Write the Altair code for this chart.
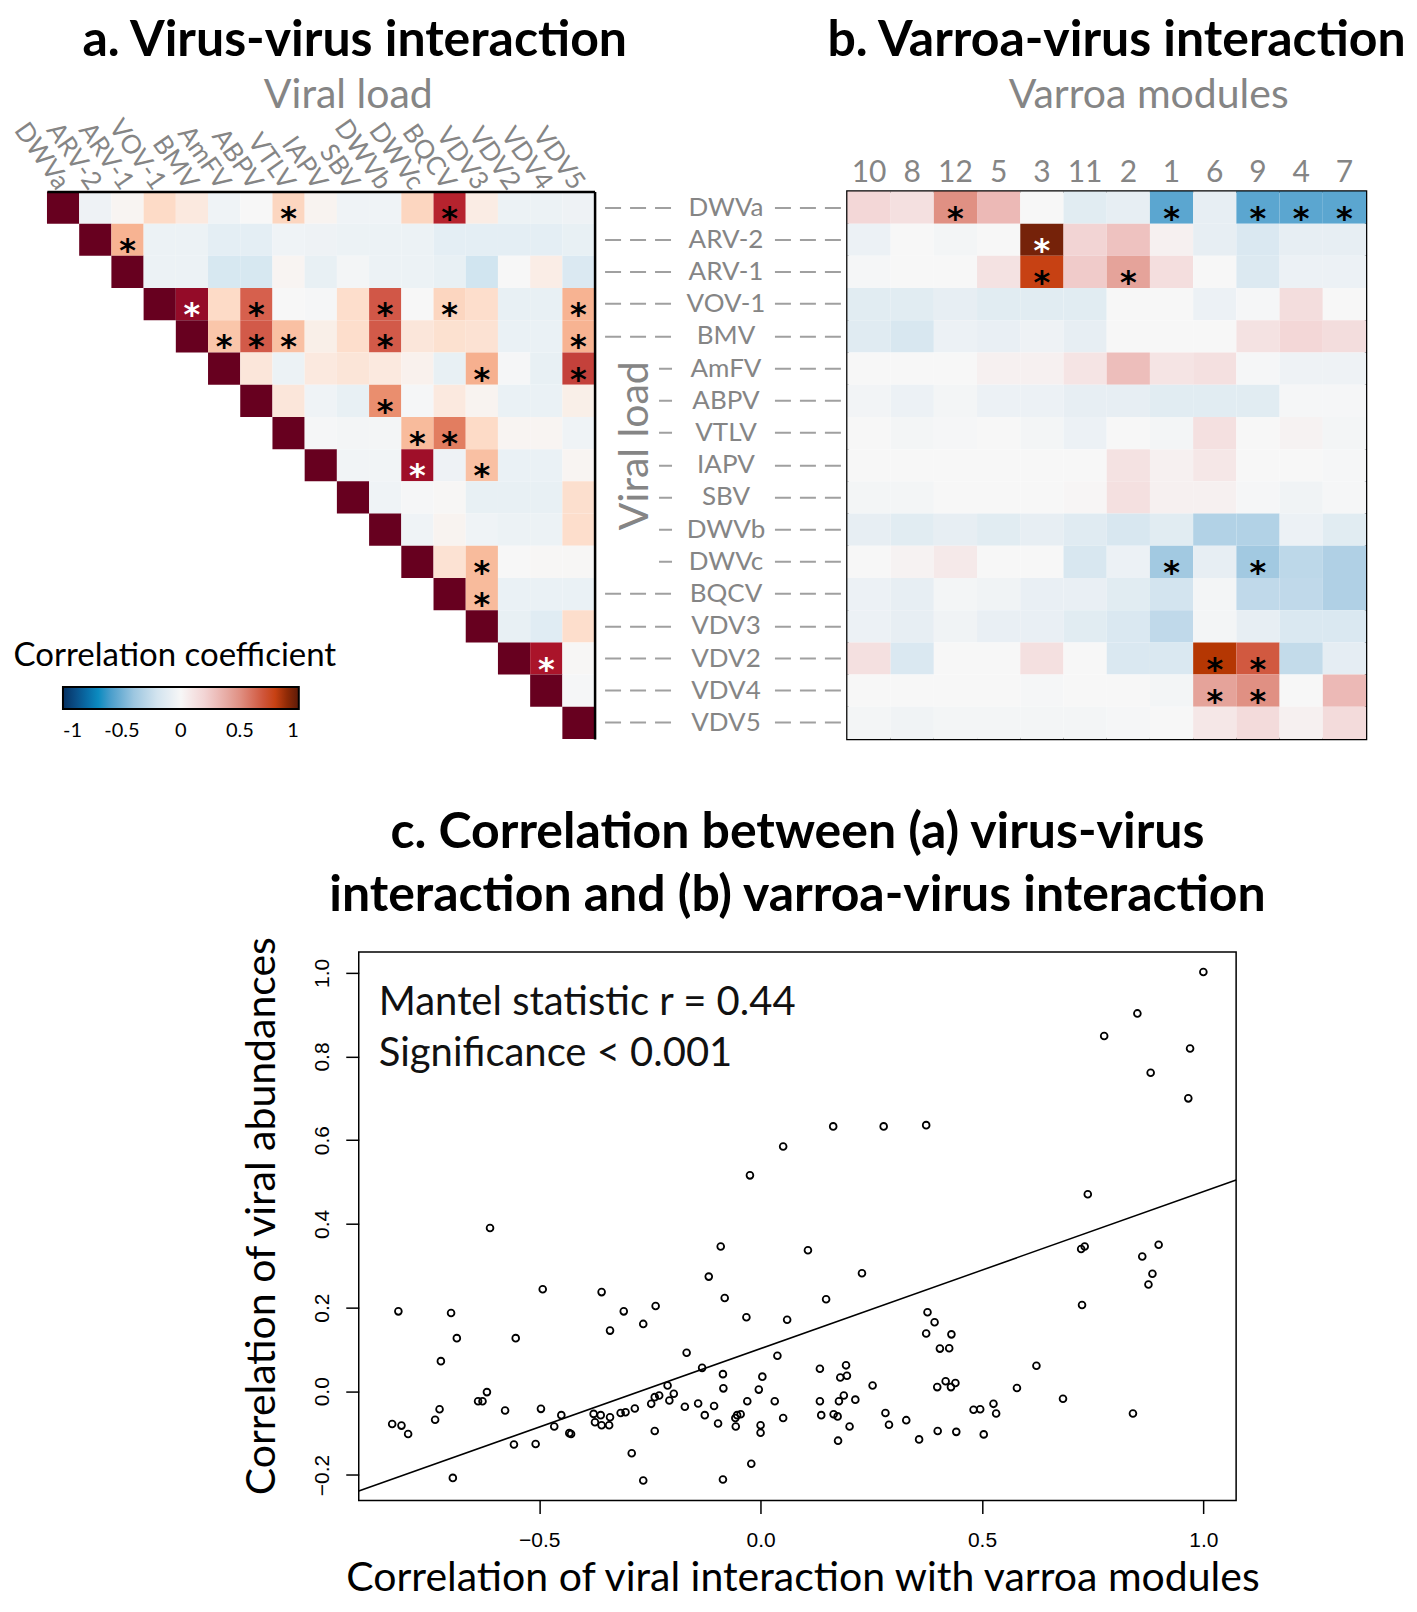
import altair as alt
import pandas as pd

FONT = "Lato"
GRAY = "#858585"
STAR_FONT = "DejaVu Sans"

# ---------------- data ----------------
viruses = ["DWVa", "ARV-2", "ARV-1", "VOV-1", "BMV", "AmFV", "ABPV", "VTLV", "IAPV",
           "SBV", "DWVb", "DWVc", "BQCV", "VDV3", "VDV2", "VDV4", "VDV5"]

# virus-virus correlations: row i holds columns i..16 (diagonal first)
vv_rows = [
    [1.0, -0.05, 0.02, 0.20, 0.10, -0.04, 0.00, 0.22, 0.03, -0.04, -0.04, 0.22, 0.78, 0.08, -0.06, -0.06, -0.05],
    [1.0, 0.35, -0.06, -0.06, -0.10, -0.10, -0.04, -0.05, -0.06, -0.06, -0.06, -0.10, -0.10, -0.10, -0.10, -0.08],
    [1.0, -0.06, -0.06, -0.17, -0.17, 0.02, -0.08, -0.02, -0.06, -0.06, -0.08, -0.20, 0.00, 0.07, -0.15],
    [1.0, 0.88, 0.20, 0.60, 0.00, -0.01, 0.18, 0.63, 0.00, 0.22, 0.18, -0.08, -0.08, 0.35],
    [1.0, 0.28, 0.62, 0.30, 0.06, 0.18, 0.62, 0.12, 0.16, 0.15, -0.07, -0.07, 0.35],
    [1.0, 0.12, -0.06, 0.10, 0.13, 0.10, 0.04, -0.08, 0.36, -0.01, -0.08, 0.70],
    [1.0, 0.12, -0.04, -0.08, 0.47, -0.01, 0.10, 0.03, -0.07, -0.07, 0.06],
    [1.0, -0.01, -0.02, -0.02, 0.32, 0.52, 0.20, 0.02, 0.02, -0.04],
    [1.0, -0.03, -0.03, 0.85, -0.05, 0.30, -0.07, -0.07, 0.02],
    [1.0, -0.04, -0.01, 0.01, -0.08, -0.08, -0.08, 0.17],
    [1.0, -0.04, 0.03, -0.04, -0.06, -0.06, 0.18],
    [1.0, 0.15, 0.32, 0.00, 0.01, 0.01],
    [1.0, 0.32, -0.07, -0.07, -0.07],
    [1.0, -0.08, -0.12, 0.18],
    [1.0, 0.82, 0.01],
    [1.0, -0.01],
    [1.0],
]
vv_stars = [("DWVa", "VTLV"), ("DWVa", "BQCV"), ("ARV-2", "ARV-1"), ("VOV-1", "BMV"),
            ("VOV-1", "ABPV"), ("VOV-1", "DWVb"), ("VOV-1", "BQCV"), ("VOV-1", "VDV5"),
            ("BMV", "AmFV"), ("BMV", "ABPV"), ("BMV", "VTLV"), ("BMV", "DWVb"), ("BMV", "VDV5"),
            ("AmFV", "VDV3"), ("AmFV", "VDV5"), ("ABPV", "DWVb"), ("VTLV", "DWVc"),
            ("VTLV", "BQCV"), ("IAPV", "DWVc"), ("IAPV", "VDV3"), ("DWVc", "VDV3"),
            ("BQCV", "VDV3"), ("VDV2", "VDV4")]

modules = ["10", "8", "12", "5", "3", "11", "2", "1", "6", "9", "4", "7"]
vm_values = [
    [0.18, 0.13, 0.50, 0.32, 0.00, -0.12, -0.09, -0.55, -0.09, -0.55, -0.55, -0.55],
    [-0.06, 0.00, -0.02, 0.00, 0.95, 0.20, 0.28, 0.04, -0.09, -0.16, -0.09, -0.09],
    [-0.01, 0.00, 0.00, 0.12, 0.80, 0.24, 0.42, 0.14, 0.00, -0.15, -0.06, -0.06],
    [-0.12, -0.12, -0.09, -0.12, -0.12, -0.12, 0.00, 0.00, -0.06, -0.01, 0.15, 0.00],
    [-0.13, -0.17, -0.06, -0.08, -0.05, -0.09, 0.00, 0.00, 0.00, 0.12, 0.18, 0.15],
    [0.00, 0.00, 0.00, 0.04, 0.04, 0.11, 0.30, 0.11, 0.13, -0.01, -0.05, -0.05],
    [-0.03, -0.06, -0.02, -0.06, -0.06, -0.09, -0.09, -0.12, -0.12, -0.12, -0.01, -0.01],
    [0.00, -0.02, -0.01, 0.00, -0.02, -0.06, 0.00, -0.02, 0.13, 0.00, 0.03, -0.02],
    [0.00, 0.00, 0.00, 0.00, 0.00, 0.00, 0.12, 0.04, 0.09, 0.00, 0.00, -0.01],
    [-0.02, -0.02, 0.00, 0.00, 0.00, 0.01, 0.13, 0.04, 0.04, -0.01, -0.04, -0.01],
    [-0.09, -0.12, -0.09, -0.12, -0.09, -0.13, -0.17, -0.12, -0.32, -0.32, -0.06, -0.12],
    [0.00, 0.03, 0.08, 0.00, 0.00, -0.17, -0.06, -0.38, -0.09, -0.38, -0.28, -0.33],
    [-0.06, -0.09, -0.02, -0.04, -0.08, -0.08, -0.12, -0.20, -0.02, -0.27, -0.27, -0.33],
    [-0.06, -0.09, -0.04, -0.08, -0.08, -0.12, -0.16, -0.27, -0.02, -0.09, -0.16, -0.16],
    [0.13, -0.16, 0.00, 0.00, 0.13, 0.00, -0.16, -0.16, 0.85, 0.68, -0.26, -0.10],
    [0.00, 0.00, 0.00, 0.00, -0.01, 0.00, 0.00, -0.02, 0.42, 0.50, 0.00, 0.32],
    [-0.02, -0.04, -0.02, -0.02, -0.02, -0.02, -0.01, 0.00, 0.09, 0.16, 0.04, 0.16],
]
vm_stars = [("DWVa", "12"), ("DWVa", "1"), ("DWVa", "9"), ("DWVa", "4"), ("DWVa", "7"),
            ("ARV-2", "3"), ("ARV-1", "3"), ("ARV-1", "2"), ("DWVc", "1"), ("DWVc", "9"),
            ("VDV2", "6"), ("VDV2", "9"), ("VDV4", "6"), ("VDV4", "9")]

# panel c: correlation with varroa modules (x) vs correlation of viral abundances (y)
pair_x = [-0.818, -0.699, -0.686, -0.492, -0.553, -0.722, -0.832, -0.811, -0.796, -0.735,
          -0.725, -0.695, -0.638, -0.628, -0.618, -0.577, -0.557, -0.508, -0.496, -0.466,
          -0.450, -0.432, -0.428, -0.359, -0.340, -0.309, -0.265, -0.237, -0.377, -0.374,
          -0.361, -0.359, -0.342, -0.340, -0.316, -0.305, -0.284, -0.291, -0.265, -0.247,
          -0.239, -0.229, -0.239, -0.210, -0.206, -0.196, -0.171, -0.167, -0.141, -0.132,
          -0.126, -0.117, -0.105, -0.096, -0.085, -0.084, -0.081, -0.085, -0.057, -0.053,
          -0.045, -0.056, -0.032, -0.030, -0.021, -0.004, 0.004, 0.000, 0.000, 0.032,
          0.038, 0.051, 0.060, 0.148, 0.134, 0.134, 0.137, 0.165, 0.174, 0.175,
          0.177, 0.180, 0.188, 0.193, 0.195, 0.201, 0.214, 0.229, 0.253, 0.282,
          0.290, 0.329, 0.358, 0.377, 0.393, 0.374, 0.431, 0.405, 0.426, 0.399,
          0.418, 0.430, 0.440, 0.400, 0.442, 0.481, 0.496, 0.504, 0.526, 0.532,
          0.579, 0.623, 0.683, 0.726, 0.841, 0.876, 0.885, 1.000, 0.851, 0.776,
          0.970, 0.881, 0.966, 0.164, 0.278, 0.374, 0.051, -0.024, 0.739, 0.107,
          0.724, 0.732, 0.862, 0.899, -0.611, -0.090]
pair_y = [0.191, 0.187, 0.127, 0.244, 0.127, 0.072, -0.078, -0.082, -0.102, -0.068,
          -0.043, -0.207, -0.024, -0.024, -0.002, -0.046, -0.127, -0.126, -0.042, -0.084,
          -0.057, -0.100, -0.102, 0.237, 0.145, 0.191, 0.161, 0.204, -0.054, -0.074,
          -0.057, -0.081, -0.081, -0.062, -0.052, -0.050, -0.041, -0.148, -0.213, -0.030,
          -0.014, -0.010, -0.095, 0.014, -0.022, -0.006, -0.037, 0.092, -0.029, 0.056,
          -0.057, 0.274, -0.035, -0.077, 0.041, 0.007, 0.223, -0.211, -0.064, -0.057,
          -0.055, -0.084, 0.177, -0.024, -0.173, 0.004, 0.035, -0.081, -0.099, -0.024,
          0.085, -0.064, 0.171, 0.220, 0.054, -0.024, -0.057, -0.055, -0.060, -0.118,
          -0.024, 0.033, -0.010, 0.062, 0.037, -0.084, -0.020, 0.282, 0.014, -0.052,
          -0.080, -0.069, -0.115, 0.189, 0.165, 0.138, 0.136, 0.102, 0.103, 0.010,
          0.024, 0.010, 0.020, -0.095, -0.097, -0.044, -0.043, -0.103, -0.030, -0.053,
          0.008, 0.061, -0.018, 0.206, -0.053, 0.255, 0.281, 1.002, 0.903, 0.849,
          0.819, 0.761, 0.700, 0.633, 0.633, 0.636, 0.585, 0.516, 0.471, 0.337,
          0.340, 0.346, 0.322, 0.350, 0.390, 0.346]
fit_intercept = 0.102
fit_slope = 0.375
mantel_r = "0.44"
mantel_p = "0.001"
x_dom = [-0.9075, 1.074]
y_dom = [-0.261, 1.050]

# ---------------- tables ----------------
star_a = set(vv_stars)
rec_a = []
for i, row in enumerate(vv_rows):
    for k, v in enumerate(row):
        j = i + k
        rec_a.append({"row": viruses[i], "col": viruses[j], "value": v,
                      "star": (viruses[i], viruses[j]) in star_a})
df_a = pd.DataFrame(rec_a)

star_b = set(vm_stars)
rec_b = []
for i, row in enumerate(vm_values):
    for k, v in enumerate(row):
        rec_b.append({"virus": viruses[i], "module": modules[k], "value": v,
                      "star": (viruses[i], modules[k]) in star_b})
df_b = pd.DataFrame(rec_b)

df_c = pd.DataFrame({"vx": pair_x, "vy": pair_y})
df_line = pd.DataFrame({"vx": x_dom, "vy": [fit_intercept + fit_slope * x for x in x_dom]})

# ---------------- colour scales ----------------
scale_a = alt.Scale(
    type="linear",
    domain=[-1, -0.8, -0.6, -0.4, -0.2, 0, 0.2, 0.4, 0.6, 0.8, 1],
    range=["#053061", "#2166AC", "#4393C3", "#92C5DE", "#D1E5F0", "#F7F7F7",
           "#FDDBC7", "#F4A582", "#D6604D", "#B2182B", "#67001F"])
scale_b = alt.Scale(
    type="linear",
    domain=[-1, -0.85, -0.7, -0.55, -0.4, -0.2, 0, 0.2, 0.4, 0.55, 0.65, 0.75, 0.83, 0.9, 1],
    range=["#053061", "#0B5B96", "#0C8BC0", "#5BA6D0", "#9CC6E0", "#D3E4EF", "#F7F7F7",
           "#F2D4D4", "#E6A8A0", "#DC8474", "#D2604A", "#CC4A28", "#C43C00", "#8F2A06", "#5C1A08"])

W_A = 548
H_A = 548
W_B = 519

# ---------------- panel a ----------------
xa = alt.X("col:N", scale=alt.Scale(domain=viruses, paddingInner=0, paddingOuter=0),
           axis=alt.Axis(orient="top", labelAngle=55, labelAlign="right", labelBaseline="middle",
                         labelFont=FONT, labelFontSize=26, labelColor=GRAY, labelPadding=5,
                         labelOverlap=False, ticks=False, domain=True, domainColor="black",
                         domainWidth=2.5, title="Viral load", titleFont=FONT, titleFontSize=41,
                         titleFontWeight="normal", titleColor=GRAY, titleX=301, titleY=-96,
                         titleAlign="center", titleBaseline="middle", titleAngle=0))
ya = alt.Y("row:N", scale=alt.Scale(domain=viruses, paddingInner=0, paddingOuter=0),
           axis=alt.Axis(orient="right", labels=False, ticks=False, domain=True,
                         domainColor="black", domainWidth=2.5, title=None, minExtent=0))
base_a = alt.Chart(df_a).encode(x=xa, y=ya)
rect_a = base_a.mark_rect().encode(color=alt.Color("value:Q", scale=scale_a, legend=None))
stars_a = base_a.transform_filter("datum.star").mark_text(
    text="*", font=STAR_FONT, fontWeight="bold", fontSize=32, dy=11).encode(
    color=alt.condition("datum.value > 0.8", alt.value("white"), alt.value("black")))
legend_b = alt.Legend(orient="none", legendX=16, legendY=496, direction="horizontal",
                      gradientLength=236, gradientThickness=22, gradientStrokeColor="black",
                      gradientStrokeWidth=2, title=None, values=[-1, -0.5, 0, 0.5, 1],
                      labelFont=FONT, labelFontSize=20, labelColor="black", labelOffset=12,
                      padding=0,
                      labelExpr="datum.value < 0 ? '-' + format(-datum.value, '~g') : format(datum.value, '~g')")
legend_layer = base_a.mark_rect(fillOpacity=0).encode(
    color=alt.Color("value:Q", scale=scale_b, legend=legend_b))
legend_title = alt.Chart(pd.DataFrame({"t": ["Correlation coefficient"]})).mark_text(
    font=FONT, fontSize=33, align="center", baseline="middle", color="black").encode(
    text="t:N", x=alt.value(128), y=alt.value(465))

panel_a = alt.layer(rect_a, stars_a, legend_layer, legend_title).resolve_scale(
    color="independent").properties(
    width=W_A, height=H_A,
    view=alt.ViewBackground(stroke="transparent", strokeWidth=0),
    title=alt.TitleParams("a. Virus-virus interaction", font=FONT, fontSize=50,
                          fontWeight="bold", color="black", anchor="middle",
                          frame="group", dx=34, offset=9))

# ---------------- panel b ----------------
long_dash = [0, 7, 16, 9, 16, 9, 16, 104, 16, 9, 16, 9, 16]
short_dash = [0, 7, 16, 9, 16, 9, 16, 103, 13, 200]
xb = alt.X("module:N", scale=alt.Scale(domain=modules, paddingInner=0, paddingOuter=0),
           axis=alt.Axis(orient="top", labelFont=FONT, labelFontSize=30, labelColor=GRAY,
                         labelAngle=0, labelPadding=4, ticks=False, domain=False,
                         title="Varroa modules", titleFont=FONT, titleFontSize=41,
                         titleFontWeight="normal", titleColor=GRAY, titleX=301, titleY=-96,
                         titleAlign="center", titleBaseline="middle", titleAngle=0))
yb = alt.Y("virus:N", scale=alt.Scale(domain=viruses, paddingInner=0, paddingOuter=0),
           axis=alt.Axis(orient="left", labelFont=FONT, labelFontSize=26, labelColor=GRAY,
                         labelAlign="center", labelBaseline="middle", labelPadding=-121,
                         ticks=True, tickSize=243, tickColor="#a0a0a0", tickWidth=2,
                         tickDash={"condition": {
                             "test": "indexof(['AmFV','ABPV','VTLV','IAPV','SBV','DWVb','DWVc'], datum.value) >= 0",
                             "value": short_dash}, "value": long_dash},
                         domain=False, title="Viral load", titleFont=FONT, titleFontSize=41,
                         titleFontWeight="normal", titleColor=GRAY, titleX=-212, titleY=254,
                         titleAngle=270, titleAlign="center", titleBaseline="middle"))
base_b = alt.Chart(df_b).encode(x=xb, y=yb)
rect_b = base_b.mark_rect().encode(color=alt.Color("value:Q", scale=scale_b, legend=None))
stars_b = base_b.transform_filter("datum.star").mark_text(
    text="*", font=STAR_FONT, fontWeight="bold", fontSize=32, dy=11).encode(
    color=alt.condition("datum.value > 0.9", alt.value("white"), alt.value("black")))
panel_b = alt.layer(rect_b, stars_b).properties(
    width=W_B, height=H_A,
    view=alt.ViewBackground(stroke="black", strokeWidth=2.5),
    title=alt.TitleParams("b. Varroa-virus interaction", font=FONT, fontSize=50,
                          fontWeight="bold", color="black", anchor="start",
                          frame="group", dx=-20, offset=9))

top_row = alt.hconcat(panel_a, panel_b, spacing=-27).resolve_scale(
    color="independent").resolve_legend(color="independent")

# ---------------- panel c ----------------
xc = alt.X("vx:Q", scale=alt.Scale(domain=x_dom, nice=False, zero=False),
           axis=alt.Axis(values=[-0.5, 0, 0.5, 1.0], format=".1f", labelFont="Liberation Sans",
                         labelFontSize=21, labelColor="black", tickSize=13, tickColor="black",
                         tickWidth=1.5, labelPadding=16, domain=False, grid=False,
                         title="Correlation of viral interaction with varroa modules",
                         titleFont=FONT, titleFontSize=41, titleFontWeight="normal",
                         titleColor="black", titleX=444, titleY=78, titleAlign="center",
                         titleBaseline="middle"))
yc = alt.Y("vy:Q", scale=alt.Scale(domain=y_dom, nice=False, zero=False),
           axis=alt.Axis(values=[-0.2, 0, 0.2, 0.4, 0.6, 0.8, 1.0], format=".1f",
                         labelFont="Liberation Sans", labelFontSize=21, labelColor="black",
                         labelAngle=270, labelAlign="center", labelBaseline="bottom",
                         labelPadding=13, tickSize=13, tickColor="black", tickWidth=1.5,
                         domain=False, grid=False, title="Correlation of viral abundances",
                         titleFont=FONT, titleFontSize=41, titleFontWeight="normal",
                         titleColor="black", titleX=-96, titleY=264, titleAngle=270,
                         titleAlign="center", titleBaseline="middle"))
pts = alt.Chart(df_c).mark_point(shape="circle", filled=False, color="black", size=46,
                                 strokeWidth=1.8, opacity=1).encode(x=xc, y=yc)
fit = alt.Chart(df_line).mark_line(color="black", strokeWidth=1.5).encode(x=xc, y=yc)
stat = alt.Chart(pd.DataFrame({"t": [f"Mantel statistic r = {mantel_r}\nSignificance < {mantel_p}"]})).mark_text(
    font=FONT, fontSize=40, align="left", baseline="alphabetic", lineBreak="\n",
    lineHeight=51, color="#111111").encode(text="t:N", x=alt.value(20), y=alt.value(63))
panel_c = alt.layer(pts, fit, stat).properties(
    width=878, height=549,
    view=alt.ViewBackground(stroke="black", strokeWidth=1.5),
    title=alt.TitleParams(["c. Correlation between (a) virus-virus",
                           "interaction and (b) varroa-virus interaction"],
                          font=FONT, fontSize=50, fontWeight="bold", color="black",
                          anchor="middle", frame="group", lineHeight=63, offset=15))

spacer = alt.Chart(pd.DataFrame({"s": [0]})).mark_text(text="").properties(
    width=194, height=5, view=alt.ViewBackground(stroke="transparent", strokeWidth=0))
bottom_row = alt.hconcat(spacer, panel_c, spacing=0)

chart = alt.vconcat(top_row, bottom_row, spacing=66).resolve_scale(
    color="independent").properties(
    padding={"left": 0, "top": 5, "right": 0, "bottom": 0}, background="white"
).configure_view(stroke="transparent")

chart.save("out.html", embed_options={"renderer": "svg", "actions": False})
